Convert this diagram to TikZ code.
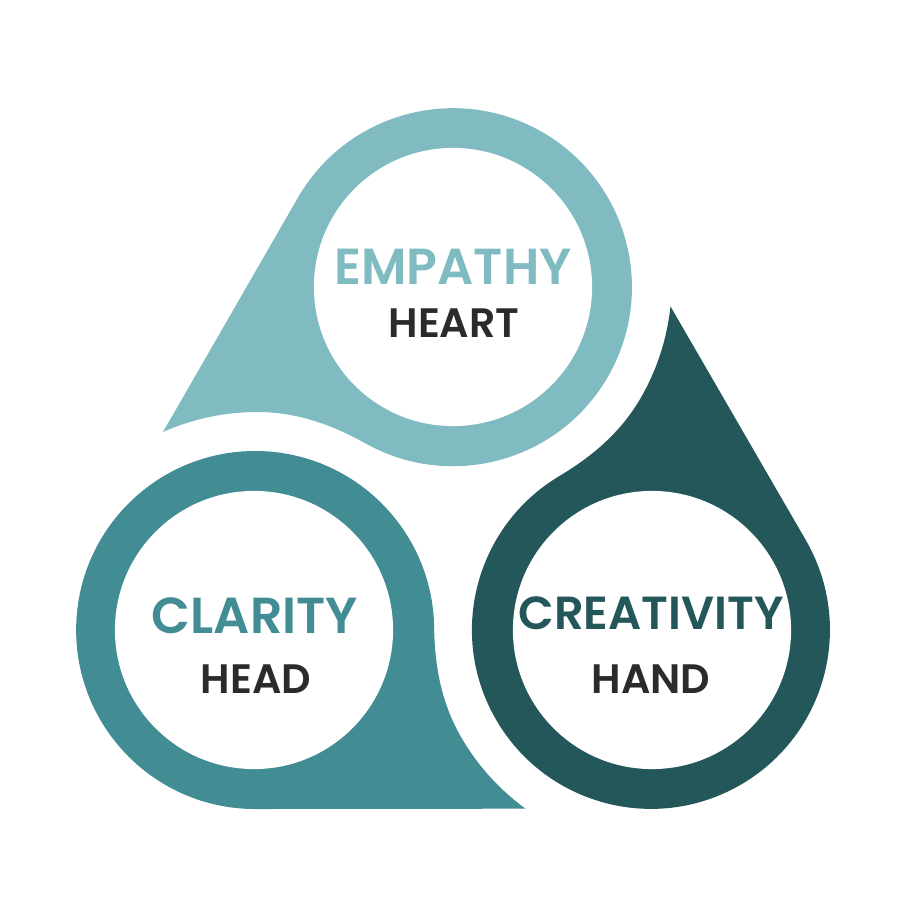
\documentclass[tikz,border=0pt]{standalone}
\usepackage{fontspec}
\setmainfont{Poppins}[BoldFont=Poppins SemiBold]
\definecolor{lightteal}{HTML}{7FBBC1}
\definecolor{midteal}{HTML}{428C94}
\definecolor{darkteal}{HTML}{245759}
\definecolor{subgray}{HTML}{2B2B2B}

\begin{document}
\begin{tikzpicture}[x=0.01cm,y=0.01cm,
    drop path/.style={insert path={(163,479) -- (297.9,713.3) arc (150:-119:179)
        .. controls (330,487.5) and (295,499) .. (257,499)
        .. controls (222,499) and (190,491) .. (163,479) -- cycle}},
    hole node/.style={circle,fill=white,inner sep=0pt,minimum size=2.78cm},
    title node/.style={font=\bfseries\fontsize{14.4}{18}\selectfont},
    sub node/.style={font=\bfseries\fontsize{11.7}{14}\selectfont,text=subgray}]

    \useasboundingbox (0,0) rectangle (911,911);
    \coordinate (ctr) at (453,395.3);

    \fill[lightteal,drop path];
    \fill[darkteal,rotate around={-120:(ctr)},drop path];
    \fill[midteal,rotate around={120:(ctr)},drop path];

    \node[hole node] (top)   at (453,624) {};
    \node[hole node] (right) at (652,281) {};
    \node[hole node] (left)  at (254,281) {};

    \node[title node,text=lightteal] (empathy) at (453,644) {EMPATHY};
    \node[sub node]                  (heart)   at (454,588) {HEART};
    \node[title node,text=midteal]   (clarity) at (255,295) {CLARITY};
    \node[sub node]                  (head)    at (256,232) {HEAD};
    \node[title node,text=darkteal,font=\bfseries\fontsize{13.2}{18}\selectfont] (creativity) at (651,298) {CREATIVITY};
    \node[sub node]                  (hand)    at (651,232) {HAND};
\end{tikzpicture}
\end{document}
